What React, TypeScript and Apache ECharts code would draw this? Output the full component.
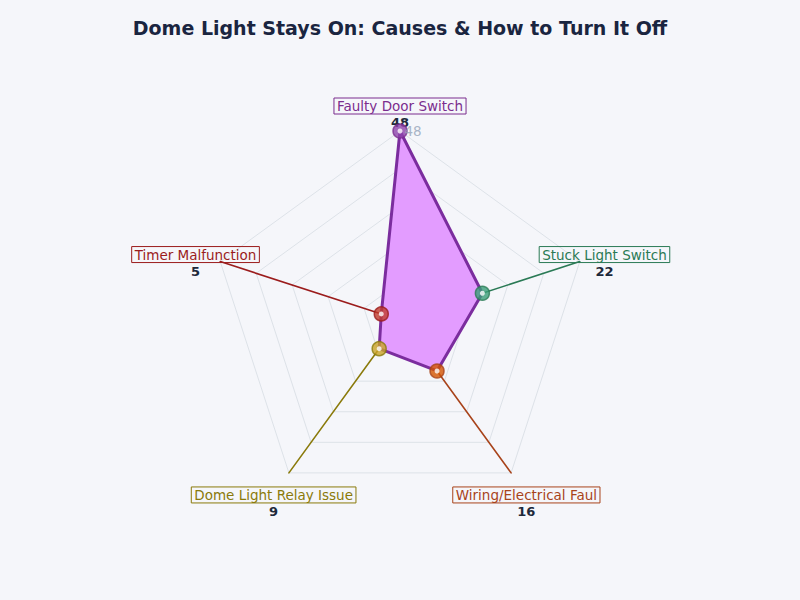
import React, { useEffect, useRef } from "react";
import * as echarts from "echarts";

// radar order (counter-clockwise from the top)
const categories = [
	"Faulty Door Switch",
	"Timer Malfunction",
	"Dome Light Relay Issue",
	"Wiring/Electrical Faul",
	"Stuck Light Switch",
];
const values = [48, 5, 9, 16, 22];
const maxValue = 48;

const textColors = ["#7b2d8e", "#9b1c1c", "#8a7a0a", "#a8431a", "#2a7a55"];
const pointColors = ["#8e44ad", "#c0392b", "#c9a227", "#d35400", "#3a9e78"];

const App: React.FC = () => {
	const chartRef = useRef<HTMLDivElement>(null);

	useEffect(() => {
		if (!chartRef.current) return;
		const chart = echarts.init(chartRef.current, null, { renderer: "svg" });

		const rich: Record<string, any> = {
			v: {
				fontSize: 13,
				fontWeight: "bold",
				color: "#1e293b",
				lineHeight: 18,
				align: "center",
			},
		};
		textColors.forEach((c, i) => {
			rich["t" + i] = {
				fontSize: 13.5,
				color: c,
				lineHeight: 15,
				borderColor: c,
				borderWidth: 1,
				padding: [1, 3, 1, 3],
				align: "center",
			};
		});

		const option: any = {
			animation: false,
			backgroundColor: "#f5f6fa",
			textStyle: { fontFamily: "DejaVu Sans" },
			title: {
				text: "Dome Light Stays On: Causes & How to Turn It Off",
				left: "center",
				top: 13,
				textStyle: { fontSize: 19, fontWeight: "bold", color: "#1a2540" },
			},
			radar: {
				center: [400, 320],
				radius: 189,
				splitNumber: 5,
				nameGap: 26,
				axisName: {
					align: "center",
					verticalAlign: "middle",
					padding: [20, 0, 0, 0],
					rich,
					formatter: (name: string) => {
						const i = categories.indexOf(name);
						return `{t${i}|${name}}\n{v|${values[i]}}`;
					},
				},
				axisLine: { show: true, lineStyle: { width: 1.6 } },
				axisTick: { show: false },
				axisLabel: { show: false },
				splitLine: { lineStyle: { color: "#dde2e8", width: 1 } },
				splitArea: { show: false },
				indicator: categories.map((name, i) => ({
					name,
					max: maxValue,
					min: 0,
					axisLine: { lineStyle: { color: textColors[i] } },
				})),
			},
			polar: { center: [400, 320], radius: 189 },
			angleAxis: {
				type: "category",
				data: categories,
				startAngle: 90,
				clockwise: false,
				boundaryGap: false,
				show: false,
			},
			radiusAxis: { min: 0, max: maxValue, show: false },
			series: [
				{
					type: "radar",
					symbol: "none",
					lineStyle: { width: 0, opacity: 0 },
					areaStyle: { color: "#e39cff", opacity: 1 },
					data: [{ value: values, name: "Causes" }],
				},
				{
					type: "radar",
					symbol: "none",
					lineStyle: { color: "#7b2d9e", width: 3 },
					data: [{ value: values, name: "Causes" }],
				},
				{
					type: "scatter",
					coordinateSystem: "polar",
					symbolSize: 14,
					data: categories.map((c, i) => ({
						value: [values[i], c],
						itemStyle: {
							color: pointColors[i],
							borderColor: textColors[i],
							borderWidth: 1.5,
						},
						label:
							i === 0
								? {
										show: true,
										position: "inside",
										offset: [13, 0],
										color: "#94a3b8",
										fontSize: 13.5,
										formatter: String(values[i]),
								  }
								: { show: false },
					})),
				},
				{
					type: "scatter",
					coordinateSystem: "polar",
					symbolSize: 5,
					itemStyle: { color: "#ffffff" },
					data: categories.map((c, i) => [values[i], c]),
				},
			],
		};

		chart.setOption(option);
		return () => chart.dispose();
	}, []);

	return (
		<div
			ref={chartRef}
			style={{ position: "fixed", left: 0, top: 0, width: 800, height: 600 }}
		/>
	);
};

export default App;
